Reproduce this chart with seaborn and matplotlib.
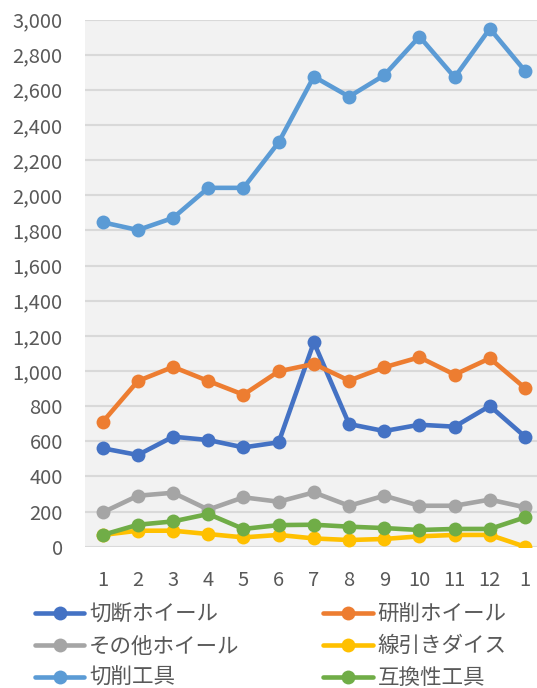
import matplotlib
matplotlib.use("Agg")
import matplotlib.pyplot as plt
import seaborn as sns
import pandas as pd
from matplotlib.ticker import MultipleLocator, FuncFormatter

months = ["1", "2", "3", "4", "5", "6", "7", "8", "9", "10", "11", "12", "1"]
series_names = ["切断ホイール", "研削ホイール", "その他ホイール", "線引きダイス", "切削工具", "互換性工具"]
cut_wheel = [560, 522, 626, 607, 565, 594, 1163, 698, 658, 694, 683, 801, 626]
grind_wheel = [710, 943, 1023, 943, 865, 998, 1040, 945, 1021, 1078, 979, 1072, 903]
other_wheel = [195, 290, 307, 211, 281, 256, 309, 233, 290, 233, 233, 268, 224]
wire_die = [67, 91, 91, 72, 53, 67, 47, 38, 44, 59, 67, 67, 0]
cutting_tool = [1846, 1802, 1871, 2042, 2042, 2301, 2675, 2561, 2683, 2903, 2671, 2948, 2707]
interchange_tool = [67, 125, 144, 186, 101, 123, 125, 114, 106, 95, 101, 101, 167]
colors = ["#4472C4", "#ED7D31", "#A5A5A5", "#FFC000", "#5B9BD5", "#70AD47"]

values = [cut_wheel, grind_wheel, other_wheel, wire_die, cutting_tool, interchange_tool]
rows = []
for name, vals in zip(series_names, values):
    for i, v in enumerate(vals):
        rows.append({"pos": i, "value": v, "series": name})
df = pd.DataFrame(rows)

sns.set_theme(style="white")
plt.rcParams["font.family"] = ["Noto Sans CJK JP", "DejaVu Sans"]

fig = plt.figure(figsize=(5.37, 6.88), dpi=100)
ax = fig.add_axes([85 / 537, 1 - 546.7 / 688, 452 / 537, (546.7 - 19.5) / 688])
ax.set_facecolor("#F2F2F2")

sns.lineplot(data=df, x="pos", y="value", hue="series", hue_order=series_names,
             palette=colors, marker="o", markersize=10, markeredgewidth=0,
             linewidth=3.3, ax=ax, legend=False, zorder=3)

ax.set_xlim(-0.503, 12.34)
ax.set_ylim(0, 3000)
ax.yaxis.set_major_locator(MultipleLocator(200))
ax.yaxis.set_major_formatter(FuncFormatter(lambda v, p: f"{int(v):,}"))
ax.set_xticks(range(len(months)))
ax.set_xticklabels(months)
ax.grid(axis="y", color="#D9D9D9", linewidth=1.5, zorder=0)
ax.grid(axis="x", visible=False)
for s in ax.spines.values():
    s.set_visible(False)
ax.tick_params(axis="both", length=0, labelsize=14.5, colors="#595959")
ax.tick_params(axis="y", pad=16)
ax.tick_params(axis="x", pad=17)
ax.set_xlabel("")
ax.set_ylabel("")

handles = [plt.Line2D([], [], color=c, marker="o", markersize=10, markeredgewidth=0, linewidth=3.3)
           for c in colors]
order = [0, 2, 4, 1, 3, 5]
fig.legend([handles[i] for i in order], [series_names[i] for i in order], ncol=2,
           loc="upper left", bbox_to_anchor=(24 / 537, 1 - 593 / 688), borderpad=0,
           frameon=False, fontsize=15.5, handlelength=2.3, handletextpad=0.22, columnspacing=3.9,
           labelspacing=0.45, labelcolor="#595959")

fig.savefig("out.png", dpi=100, facecolor="white")
